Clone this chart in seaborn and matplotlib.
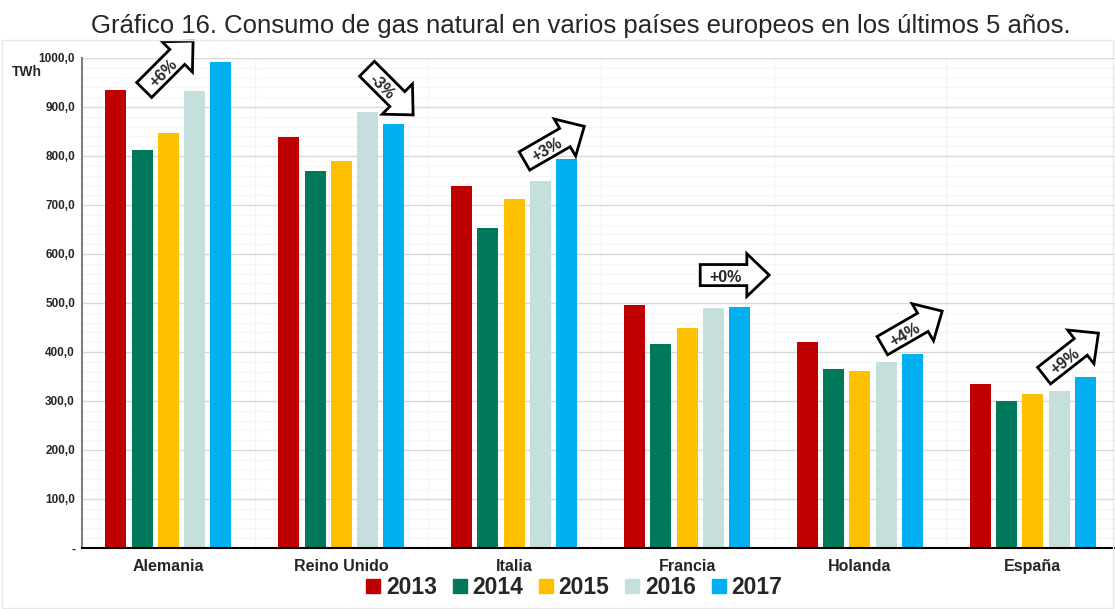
import matplotlib
matplotlib.use("Agg")
import matplotlib.pyplot as plt
from matplotlib.lines import Line2D
from matplotlib.path import Path
from matplotlib.patches import Rectangle
import seaborn as sns
import pandas as pd
import numpy as np

# datos (TWh)
paises = ["Alemania", "Reino Unido", "Italia", "Francia", "Holanda", "España"]
anios = ["2013", "2014", "2015", "2016", "2017"]
v2013 = [935, 839, 739, 496, 420, 335]
v2014 = [812, 769, 653, 416, 365, 300]
v2015 = [847, 790, 712, 449, 361, 314]
v2016 = [933, 890, 749, 490, 380, 320]
v2017 = [992, 865, 794, 492, 396, 349]
colores = ["#C00000", "#00785A", "#FFC000", "#C5E0DC", "#00B0F0"]

# flechas de variacion 2013-2017: texto, x (categoria + offset), y, rotacion
variaciones = ["+6%", "-3%", "+3%", "+0%", "+4%", "+9%"]
var_x = [-0.03, 1.235, 2.19, 3.22, 4.26, 5.185]
var_y = [968, 942, 812, 553, 435, 380]
var_rot = [45, -45, 30, 0, 30, 38]


def flecha(x0, y0, width, height, mutation_size):
    """Caja con forma de flecha de bloque (cuerpo + punta grande)."""
    m = mutation_size
    cy = y0 + height / 2 + 0.12 * m
    h = 0.66 * m
    xl = x0 - 0.55 * m
    xr = x0 + width + 0.35 * m
    ext = 0.68 * m
    tip = xr + 1.4 * m
    verts = [(xl, cy - h), (xr, cy - h), (xr, cy - h - ext), (tip, cy),
             (xr, cy + h + ext), (xr, cy + h), (xl, cy + h), (xl, cy - h)]
    return Path(verts, closed=True)


df = pd.DataFrame({
    "País": paises * 5,
    "Año": [a for a in anios for _ in paises],
    "TWh": v2013 + v2014 + v2015 + v2016 + v2017,
})

sns.set_theme(style="white")
plt.rcParams["font.family"] = ["Liberation Sans", "DejaVu Sans"]

fig = plt.figure(figsize=(11.15, 6.09), dpi=100)
fig.patches.append(Rectangle((0.002, 0.002), 0.996, 0.932, transform=fig.transFigure,
                             fill=False, ec="#e8e8e8", lw=1))
ax = fig.add_axes([0.0735, 0.1002, 0.9265, 0.8046])

sns.barplot(data=df, x="País", y="TWh", hue="Año", palette=colores, saturation=1,
            width=0.76, gap=0.2, linewidth=0, legend=False, ax=ax)

ax.set_xlim(-0.5, 5.475)
ax.set_ylim(0, 1000)
ax.set_yticks(np.arange(0, 1001, 100))
ax.set_yticklabels(["-"] + [f"{v:.1f}".replace(".", ",") for v in np.arange(100, 1001, 100)],
                   fontsize=8.5, fontweight="bold")
ax.set_yticks(np.arange(0, 1001, 20), minor=True)
ax.set_xticks(np.arange(-0.5, 5.5, 0.5), minor=True)
ax.tick_params(axis="both", which="both", length=0)
ax.tick_params(axis="y", pad=5)
ax.tick_params(axis="x", pad=8)
for lab in ax.get_xticklabels():
    lab.set_fontsize(11.5)
    lab.set_fontweight("bold")
ax.set_xlabel("")
ax.set_ylabel("")

ax.grid(axis="y", which="major", color="#d9d9d9", lw=1)
ax.grid(axis="y", which="minor", color="#f5f5f5", lw=0.8)
ax.grid(axis="x", which="minor", color="#f0f5f5", lw=0.8)
ax.set_axisbelow(True)

for s in ["top", "right"]:
    ax.spines[s].set_visible(False)
ax.spines["left"].set_color("#808080")
ax.spines["left"].set_linewidth(1.5)
ax.spines["bottom"].set_color("black")
ax.spines["bottom"].set_linewidth(1.5)

for txt, x, y, r in zip(variaciones, var_x, var_y, var_rot):
    ax.text(x, y, txt, rotation=r, rotation_mode="anchor", ha="center", va="center",
            fontsize=11.5, fontweight="bold", zorder=5,
            bbox=dict(boxstyle=flecha, fc="white", ec="black", lw=2))

fig.text(0.011, 0.882, "TWh", fontsize=10, fontweight="bold", ha="left", va="center")
fig.text(0.521, 0.957,
         "Gráfico 16. Consumo de gas natural en varios países europeos en los últimos 5 años.",
         fontsize=18.5, ha="center", va="center")

handles = [Line2D([], [], marker="s", ls="", color=c, markersize=9.5) for c in colores]
fig.legend(handles, anios, loc="center", bbox_to_anchor=(0.513, 0.036), ncol=5,
           frameon=False, prop={"weight": "bold", "size": 16.5},
           handletextpad=0.05, columnspacing=0.5, handlelength=1.0)

fig.savefig("out.png", dpi=100)
